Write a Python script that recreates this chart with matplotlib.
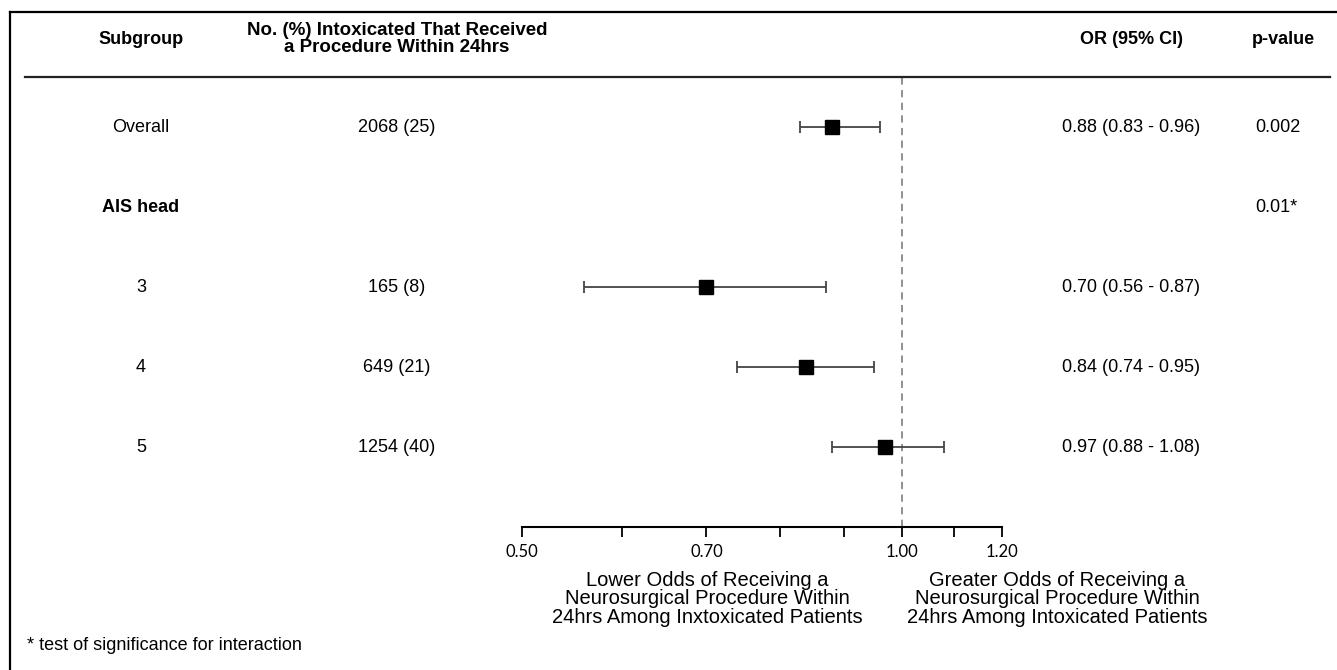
import matplotlib
matplotlib.use("Agg")
import matplotlib.pyplot as plt
import numpy as np
from matplotlib.lines import Line2D
from matplotlib.transforms import blended_transform_factory

plt.rcParams['font.family'] = ['Liberation Sans', 'DejaVu Sans']

# table rows
subgroups = ["Overall", "AIS head", "3", "4", "5"]
counts = ["2068 (25)", "", "165 (8)", "649 (21)", "1254 (40)"]
or_text = ["0.88 (0.83 - 0.96)", "", "0.70 (0.56 - 0.87)", "0.84 (0.74 - 0.95)", "0.97 (0.88 - 1.08)"]
p_text = ["0.002", "0.01*", "", "", ""]
bold_rows = [1]

# odds ratios for the markers (nan = no marker)
or_vals = [0.88, np.nan, 0.70, 0.84, 0.97]
ci_low = [0.83, np.nan, 0.56, 0.74, 0.88]
ci_high = [0.96, np.nan, 0.87, 0.95, 1.08]

ticks = [0.5, 0.6, 0.7, 0.8, 0.9, 1.0, 1.1, 1.2]
tick_labels = ["0.50", "", "0.70", "", "", "1.00", "", "1.20"]

W, H = 1337, 670
fig = plt.figure(figsize=(W / 100, H / 100), dpi=100)

def fx(px):
    return px / W

def fy(py):
    return 1 - py / H

FS = 13

# forest axes
ax = fig.add_axes([fx(522), fy(527), fx(1002) - fx(522), fy(78) - fy(527)])
ax.set_xscale('log')
ax.set_xlim(0.5, 1.2)
ax.set_ylim(5.0, -0.6125)

rows = np.arange(len(subgroups))
or_arr = np.array(or_vals)
err = np.array([or_arr - np.array(ci_low), np.array(ci_high) - or_arr])
ax.errorbar(or_arr, rows, xerr=err, fmt='none', ecolor='#444444', elinewidth=1.3,
            capsize=4, capthick=1.3, zorder=2)
ax.plot(or_arr, rows, 's', color='black', markersize=10, zorder=3)
ax.axvline(1.0, color='#888888', linestyle=(0, (4, 3)), linewidth=1.3, zorder=1)

for s in ['top', 'right', 'left']:
    ax.spines[s].set_visible(False)
ax.spines['bottom'].set_linewidth(1.5)
ax.set_yticks([])
ax.set_xticks(ticks)
ax.set_xticklabels(tick_labels, fontfamily='Lato', fontsize=12)
ax.xaxis.set_minor_locator(matplotlib.ticker.NullLocator())
ax.tick_params(axis='x', direction='out', length=7, width=1.3, pad=5)
ax.patch.set_alpha(0)

# text columns, y follows the forest rows
tr = blended_transform_factory(fig.transFigure, ax.transData)
for i in rows:
    weight = 'bold' if i in bold_rows else 'normal'
    fig.text(fx(141), i, subgroups[i], transform=tr, ha='center', va='center',
             fontsize=FS, fontweight=weight)
    fig.text(fx(397), i, counts[i], transform=tr, ha='center', va='center', fontsize=FS)
    fig.text(fx(1131), i, or_text[i], transform=tr, ha='center', va='center', fontsize=FS)
    fig.text(fx(1255), i, p_text[i], transform=tr, ha='left', va='center', fontsize=FS)

# headers
fig.text(fx(141), fy(40), "Subgroup", ha='center', va='center', fontsize=FS, fontweight='bold')
fig.text(fx(397), fy(39), "No. (%) Intoxicated That Received\na Procedure Within 24hrs",
         ha='center', va='center', fontsize=13.5, fontweight='bold', linespacing=0.95)
fig.text(fx(1131), fy(40), "OR (95% CI)", ha='center', va='center', fontsize=FS, fontweight='bold')
fig.text(fx(1283), fy(40), "p-value", ha='center', va='center', fontsize=FS, fontweight='bold')
fig.add_artist(Line2D([fx(25), fx(1330)], [fy(77), fy(77)], color='#222222', linewidth=1.6))

# direction labels
fig.text(fx(707), fy(599), "Lower Odds of Receiving a\nNeurosurgical Procedure Within\n24hrs Among Inxtoxicated Patients",
         ha='center', va='center', fontsize=14.5, linespacing=0.95)
fig.text(fx(1057), fy(599), "Greater Odds of Receiving a\nNeurosurgical Procedure Within\n24hrs Among Intoxicated Patients",
         ha='center', va='center', fontsize=14.5, linespacing=0.95)
fig.text(fx(27), fy(646), "* test of significance for interaction", ha='left', va='center', fontsize=FS)

# frame (left and top only)
fig.add_artist(Line2D([fx(10), fx(10)], [fy(12), fy(670)], color='black', linewidth=1.6))
fig.add_artist(Line2D([fx(10), fx(1337)], [fy(12), fy(12)], color='black', linewidth=1.6))

fig.savefig("out.png", dpi=100)
